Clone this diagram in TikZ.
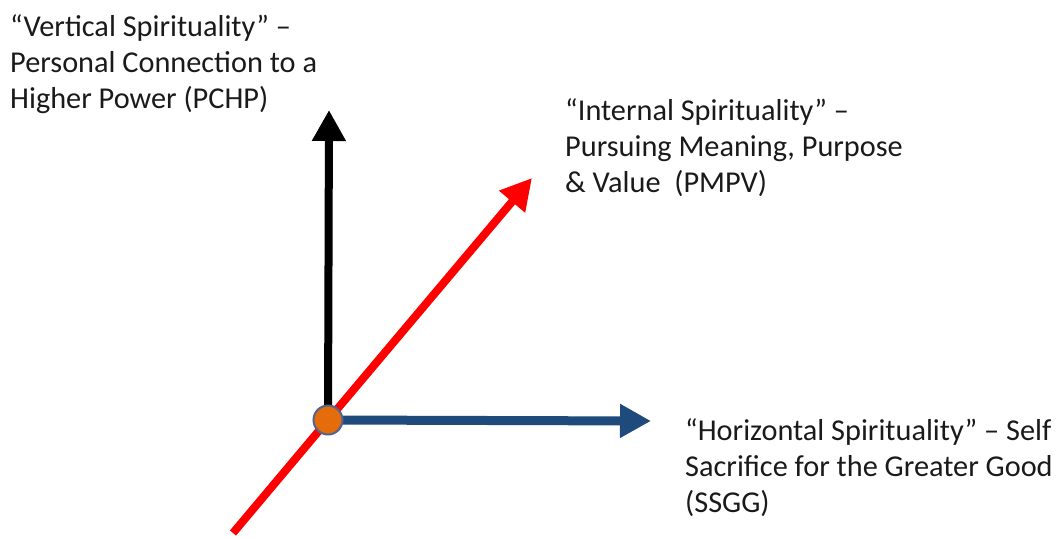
\documentclass[tikz,border=0pt]{standalone}
\usepackage{fontspec}
\setmainfont{Carlito}
\usetikzlibrary{arrows.meta}
\definecolor{axisblue}{HTML}{1F4A7C}
\definecolor{axisred}{HTML}{FF0000}
\definecolor{dotfill}{HTML}{E46C0A}
\definecolor{dotline}{HTML}{4F6490}
\definecolor{txt}{HTML}{1A1A1A}
\tikzset{
  axisline/.style={line width=8pt, -{Triangle[length=31pt,width=32pt]}},
  lbl/.style={anchor=base west, inner sep=0pt, align=left, text=txt,
    font=\fontsize{30.3}{36}\selectfont},
  origindot/.style={circle, fill=dotfill, draw=dotline, line width=2pt,
    minimum size=29pt, inner sep=0pt}
}
\begin{document}
\begin{tikzpicture}[x=1pt,y=-1pt]
\useasboundingbox (0,0) rectangle (1061,536);
\coordinate (o) at (328,420);
\coordinate (vt) at (329,110);
\coordinate (ht) at (651,421);
\coordinate (it) at (532,178);
\coordinate (ib) at (233,533);
\draw[axisline, black] (o) -- (vt);
\draw[axisline, axisred, -] (ib) -- (o);
\draw[axisline, axisred] (o) -- (it);
\draw[axisline, axisblue, line width=9pt] (o) -- (ht);
\node[origindot] (dot) at (o) {};
\node[lbl] (vlabel) at (10,108) {“Vertical Spirituality” –\\Personal Connection to a\\Higher Power (PCHP)};
\node[lbl] (ilabel) at (565,192) {“Internal Spirituality” –\\Pursuing Meaning, Purpose\\\& Value~~(PMPV)};
\node[lbl] (hlabel) at (685,512) {“Horizontal Spirituality” – Self\\Sacrifice for the Greater Good\\(SSGG)};
\end{tikzpicture}
\end{document}
